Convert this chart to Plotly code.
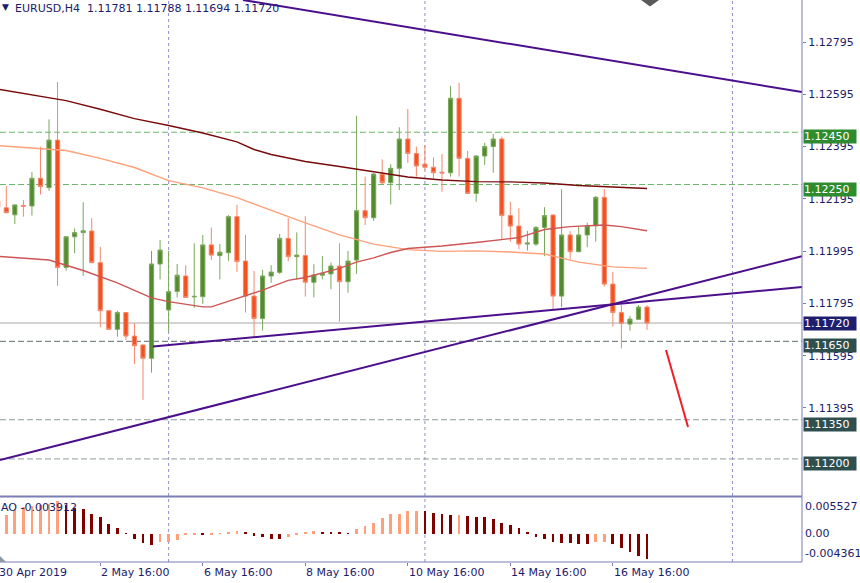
import plotly.graph_objects as go
import pandas as pd

# ---------------- data ----------------
# H4 bars, weekend-free, first (partially visible) bar = 30 Apr 2019 16:00
first_bar = "2019-04-30 16:00"
n_bars = 77

opens = [1.12187, 1.12161, 1.12134, 1.12170, 1.12168, 1.12274, 1.12238, 1.12420, 1.11933, 1.12050,
         1.12066, 1.12072, 1.11951, 1.11767, 1.11696, 1.11760, 1.11670, 1.11636, 1.11585, 1.11946,
         1.11770, 1.11841, 1.11900, 1.11820, 1.11821, 1.12019, 1.11978, 1.11989, 1.12127, 1.11957,
         1.11823, 1.11737, 1.11900, 1.11914, 1.12044, 1.11974, 1.11978, 1.11876, 1.11903, 1.11908,
         1.11938, 1.11878, 1.11961, 1.12150, 1.12123, 1.12289, 1.12257, 1.12312, 1.12424, 1.12369,
         1.12328, 1.12316, 1.12297, 1.12295, 1.12580, 1.12350, 1.12216, 1.12359, 1.12395, 1.12424,
         1.12131, 1.12091, 1.12022, 1.12022, 1.12086, 1.12133, 1.11823, 1.12057, 1.11993, 1.12057,
         1.12092, 1.12201, 1.11869, 1.11760, 1.11716, 1.11734, 1.11781]
highs = [1.12194, 1.12244, 1.12174, 1.12191, 1.12298, 1.12395, 1.12499, 1.12642, 1.12052, 1.12082,
         1.12182, 1.12121, 1.12012, 1.11769, 1.11767, 1.11762, 1.11719, 1.11638, 1.11996, 1.12038,
         1.11996, 1.11946, 1.11941, 1.12025, 1.12057, 1.12085, 1.12022, 1.12133, 1.12172, 1.12057,
         1.11919, 1.11923, 1.11941, 1.12061, 1.12121, 1.12067, 1.12129, 1.11945, 1.11976, 1.11951,
         1.12025, 1.11996, 1.12513, 1.12280, 1.12293, 1.12346, 1.12328, 1.12469, 1.12539, 1.12395,
         1.12401, 1.12354, 1.12367, 1.12627, 1.12639, 1.12379, 1.12361, 1.12410, 1.12443, 1.12433,
         1.12184, 1.12159, 1.12073, 1.12091, 1.12163, 1.12137, 1.12232, 1.12072, 1.12089, 1.12104,
         1.12206, 1.12233, 1.11916, 1.11789, 1.11747, 1.11789, 1.11788]
lows = [1.12152, 1.12141, 1.12099, 1.12127, 1.12131, 1.12212, 1.12226, 1.11862, 1.11920, 1.11987,
        1.11900, 1.11949, 1.11704, 1.11693, 1.11668, 1.11655, 1.11563, 1.11426, 1.11530, 1.11887,
        1.11687, 1.11818, 1.11816, 1.11778, 1.11793, 1.11961, 1.11887, 1.11958, 1.11916, 1.11760,
        1.11662, 1.11691, 1.11874, 1.11908, 1.11957, 1.11887, 1.11821, 1.11818, 1.11887, 1.11849,
        1.11725, 1.11836, 1.11908, 1.12095, 1.12111, 1.12251, 1.12174, 1.12229, 1.12333, 1.12280,
        1.12305, 1.12274, 1.12222, 1.12280, 1.12280, 1.12214, 1.12184, 1.12325, 1.12295, 1.12038,
        1.12031, 1.12002, 1.11997, 1.12015, 1.11976, 1.11773, 1.11780, 1.11965, 1.11991, 1.12010,
        1.12031, 1.11859, 1.11706, 1.11623, 1.11691, 1.11734, 1.11694]
closes = [1.12164, 1.12142, 1.12172, 1.12167, 1.12274, 1.12242, 1.12420, 1.11932, 1.12050, 1.12066,
          1.12073, 1.11951, 1.11767, 1.11696, 1.11760, 1.11670, 1.11633, 1.11585, 1.11946, 1.11999,
          1.11840, 1.11903, 1.11818, 1.11822, 1.12019, 1.11980, 1.11991, 1.12127, 1.11955, 1.11823,
          1.11737, 1.11900, 1.11915, 1.12044, 1.11974, 1.11980, 1.11876, 1.11904, 1.11910, 1.11938,
          1.11878, 1.11957, 1.12150, 1.12123, 1.12290, 1.12257, 1.12312, 1.12424, 1.12369, 1.12321,
          1.12316, 1.12295, 1.12294, 1.12580, 1.12350, 1.12216, 1.12359, 1.12395, 1.12424, 1.12131,
          1.12091, 1.12022, 1.12026, 1.12086, 1.12131, 1.11823, 1.12057, 1.11993, 1.12057, 1.12092,
          1.12201, 1.11869, 1.11760, 1.11719, 1.11735, 1.11781, 1.11720]

# Awesome Oscillator, bars 2..77 (30 Apr 20:00 .. 17 May 08:00)
ao_values = [0.00292, 0.00370, 0.00421, 0.00432, 0.00448, 0.00459, 0.00510, 0.00448, 0.00405, 0.00385,
             0.00307, 0.00265, 0.00151, 0.00094, 0.00011, -0.00083, -0.00150, -0.00176, -0.00134, -0.00125,
             -0.00098, -0.00016, -0.00006, -0.00020, -0.00012, 0.00003, 0.00022, 0.00042, 0.00031, -0.00031,
             -0.00051, -0.00083, -0.00088, -0.00056, -0.00010, 0.00031, 0.00042, 0.00031, 0.00016, 0.00013,
             0.00010, 0.00068, 0.00115, 0.00172, 0.00245, 0.00302, 0.00307, 0.00354, 0.00359, 0.00349,
             0.00331, 0.00307, 0.00294, 0.00297, 0.00276, 0.00260, 0.00258, 0.00229, 0.00172, 0.00136,
             0.00094, 0.00031, -0.00047, -0.00088, -0.00125, -0.00140, -0.00150, -0.00156, -0.00158, -0.00125,
             -0.00122, -0.00156, -0.00228, -0.00281, -0.00348, -0.003912]
ao_scale_max = 0.005527
ao_scale_min = -0.004361

# moving averages (bar number, value)
ma_slow_bar = [0, 8, 12, 16, 20, 24, 28, 30, 32, 36, 40, 44, 48, 52, 56, 60, 64, 68, 72, 76]
ma_slow_val = [1.12615, 1.12571, 1.12538, 1.12502, 1.12476, 1.12447, 1.12413, 1.12384, 1.12365, 1.12338,
               1.12319, 1.12300, 1.12279, 1.12267, 1.12261, 1.12260, 1.12256, 1.12246, 1.12240, 1.12235]
ma_mid_bar = [0, 8, 12, 16, 20, 24, 28, 32, 36, 40, 44, 48, 52, 56, 60, 64, 68, 72, 76]
ma_mid_val = [1.12399, 1.12380, 1.12350, 1.12315, 1.12265, 1.12237, 1.12200, 1.12150, 1.12103, 1.12057,
              1.12022, 1.12001, 1.11994, 1.11996, 1.11992, 1.11984, 1.11953, 1.11935, 1.11929]
ma_fast_bar = [0, 6, 10, 12, 14, 16, 18, 20, 24, 25, 27, 29, 31, 34, 36, 40, 42, 44, 46, 48, 52, 56,
               59, 61, 64, 67, 71, 73, 76]
ma_fast_val = [1.11975, 1.11961, 1.11921, 1.11897, 1.11874, 1.11845, 1.11816, 1.11802, 1.11782, 1.11782,
               1.11804, 1.11823, 1.11846, 1.11883, 1.11894, 1.11929, 1.11953, 1.11969, 1.11990, 1.12005,
               1.12015, 1.12028, 1.12040, 1.12047, 1.12078, 1.12089, 1.12095, 1.12089, 1.12073]

# trend lines (bar number, price)
trend_down_bar = [28.71, 94.14]
trend_down_val = [1.12956, 1.12604]
trend_up_long_bar = [0.26, 94.14]
trend_up_long_val = [1.11196, 1.11976]
trend_up_short_bar = [18.17, 94.14]
trend_up_short_val = [1.11630, 1.11858]
red_stroke_bar = [78.22, 80.80]
red_stroke_val = [1.11617, 1.11322]

levels = [1.12450, 1.12250, 1.11720, 1.11650, 1.11350, 1.11200]
price_ticks = [1.12795, 1.12595, 1.12395, 1.12195, 1.11995, 1.11795, 1.11595, 1.11395]
separator_bars = [20, 50, 86]
label_every = 12
x_view = [0.263, 94.14]

# ---------------- derived ----------------
times = []
t = pd.Timestamp(first_bar)
while len(times) < n_bars:
    if t.weekday() < 5:
        times.append(t)
    t += pd.Timedelta(hours=4)
bars = list(range(n_bars))  # bar number on the axis
ao_bars = bars[1:]

ao_colors = []
for i, v in enumerate(ao_values):
    rising = True if i == 0 else v > ao_values[i - 1]
    ao_colors.append("#FFA07A" if rising else "#800000")

tick_bars = bars[0::label_every]
tick_text = [f"{times[0].day} {times[0].strftime('%b %Y')}"] + \
            [f"{times[b].day} {times[b].strftime('%b')} {times[b].strftime('%H:%M')}" for b in tick_bars[1:]]

FONT = "DejaVu Sans"
NAVY = "#1B1B6B"
FRAME = "#7B7DB5"


def to_paper(b):
    return (b - x_view[0]) / (x_view[1] - x_view[0])


fig = go.Figure()

fig.add_trace(go.Candlestick(
    x=bars, open=opens, high=highs, low=lows, close=closes,
    increasing=dict(fillcolor="#558B2F", line=dict(color="#79A85A", width=1)),
    decreasing=dict(fillcolor="#F4511E", line=dict(color="#F5876A", width=1)),
    whiskerwidth=0, xaxis="x", yaxis="y", hoverinfo="skip", showlegend=False))

for xs, ys, col in [(ma_slow_bar, ma_slow_val, "#7A0A0A"),
                    (ma_mid_bar, ma_mid_val, "#FFA07A"),
                    (ma_fast_bar, ma_fast_val, "#CD5555")]:
    fig.add_trace(go.Scatter(x=xs, y=ys, mode="lines", line=dict(color=col, width=1.4),
                             xaxis="x", yaxis="y", hoverinfo="skip", showlegend=False))

for xs, ys in [(trend_down_bar, trend_down_val), (trend_up_long_bar, trend_up_long_val),
               (trend_up_short_bar, trend_up_short_val)]:
    fig.add_trace(go.Scatter(x=xs, y=ys, mode="lines", line=dict(color="#4B0F8C", width=2),
                             xaxis="x", yaxis="y", hoverinfo="skip", showlegend=False))

fig.add_trace(go.Scatter(x=red_stroke_bar, y=red_stroke_val, mode="lines",
                         line=dict(color="#F01E28", width=2), xaxis="x", yaxis="y",
                         hoverinfo="skip", showlegend=False))

fig.add_trace(go.Bar(x=ao_bars, y=ao_values, marker=dict(color=ao_colors, line=dict(width=0)),
                     width=0.32, xaxis="x", yaxis="y2", hoverinfo="skip", showlegend=False))

# horizontal levels
level_styles = [("#6CB86C", "dash", "#2E8B2E"), ("#6CB86C", "dash", "#2E8B2E"),
                ("#A8A8A8", "solid", "#1E1E6E"), ("#5E6E6E", "dash", "#2F4F4F"),
                ("#8E9A9A", "dash", "#2F4F4F"), ("#8E9A9A", "dash", "#2F4F4F")]
shapes = []
annotations = []
for lv, (lc, ld, bc) in zip(levels, level_styles):
    shapes.append(dict(type="line", xref="paper", x0=0, x1=1, yref="y", y0=lv, y1=lv,
                       line=dict(color=lc, width=1, dash="6px,3px" if ld == "dash" else "solid"),
                       layer="below"))
    centered = ld == "solid"
    annotations.append(dict(xref="paper", x=1, xanchor="left", xshift=1, yref="y", y=lv,
                            yanchor="middle" if centered else "top", yshift=0 if centered else 3,
                            text=f"{lv:.5f}", showarrow=False, bgcolor=bc, width=52, align="left",
                            borderpad=0, font=dict(family=FONT, size=11, color="white")))

for sb in separator_bars:
    shapes.append(dict(type="line", xref="x", x0=sb, x1=sb, yref="paper", y0=0, y1=1,
                       line=dict(color="#8F8FC8", width=1, dash="dot"), layer="below"))

# frame lines
shapes += [
    dict(type="line", xref="paper", x0=1, x1=1, yref="paper", y0=0, y1=1, line=dict(color=FRAME, width=1)),
    dict(type="line", xref="paper", x0=0, x1=1, yref="paper", y0=0.1166, y1=0.1166, line=dict(color=FRAME, width=2)),
    dict(type="line", xref="paper", x0=0, x1=1, yref="paper", y0=0, y1=0, line=dict(color=FRAME, width=1)),
    dict(type="path", xref="paper", yref="paper",
         path="M 0.7993 1 L 0.8217 1 L 0.8105 0.9885 Z", fillcolor="#5A5A5A", line=dict(width=0)),
    dict(type="path", xref="paper", yref="paper",
         path="M 0 0.0107 L 0 0 L 0.0075 0 Z", fillcolor="#8A98A8", line=dict(width=0)),
]

# x-axis labels (start at their tick, as in the terminal)
for b, txt in zip(tick_bars, tick_text):
    annotations.append(dict(xref="paper", yref="paper", x=to_paper(b), y=0, xanchor="left",
                            yanchor="top", yshift=-2, xshift=-1, text=txt, showarrow=False,
                            font=dict(family=FONT, size=11, color=NAVY)))

# header & indicator labels
annotations += [
    dict(xref="paper", yref="paper", x=0, y=1, xanchor="left", yanchor="top", xshift=0, yshift=0,
         text="▼", showarrow=False, font=dict(family=FONT, size=9, color=NAVY)),
    dict(xref="paper", yref="paper", x=0, y=1, xanchor="left", yanchor="top", xshift=13,
         text=f"EURUSD,H4\u00a0\u00a0{opens[-1]:.5f} {highs[-1]:.5f} {lows[-1]:.5f} {closes[-1]:.5f}",
         showarrow=False, font=dict(family=FONT, size=11, color=NAVY)),
    dict(xref="paper", yref="y2", x=0, y=ao_scale_max, xanchor="left", yanchor="top", xshift=-1, yshift=-1,
         text=f"AO {ao_values[-1]:.6f}", showarrow=False, font=dict(family=FONT, size=11, color=NAVY)),
    dict(xref="paper", yref="y2", x=1, y=ao_scale_max, xanchor="left", yanchor="top", xshift=1,
         text=f"{ao_scale_max:.6f}", showarrow=False, font=dict(family=FONT, size=11, color=NAVY)),
    dict(xref="paper", yref="y2", x=1, y=0, xanchor="left", yanchor="middle", xshift=1,
         text="0.00", showarrow=False, font=dict(family=FONT, size=11, color=NAVY)),
    dict(xref="paper", yref="y2", x=1, y=ao_scale_min, xanchor="left", yanchor="bottom", xshift=1,
         text=f"{ao_scale_min:.6f}", showarrow=False, font=dict(family=FONT, size=11, color=NAVY)),
]

fig.update_layout(
    width=860, height=583,
    margin=dict(l=0, r=58, t=0, b=21),
    paper_bgcolor="white", plot_bgcolor="white",
    hovermode=False, showlegend=False, bargap=0,
    xaxis=dict(domain=[0, 1], range=x_view, anchor="y2",
               rangeslider=dict(visible=False), showgrid=False, zeroline=False,
               tickvals=tick_bars, ticks="outside", ticklen=3, tickcolor=FRAME,
               showticklabels=False),
    yaxis=dict(domain=[0.11922, 1], range=[1.11062, 1.12956], anchor="x", side="right",
               tickvals=price_ticks, ticktext=[f"{p:.5f}" for p in price_ticks],
               ticks="outside", ticklen=3, tickcolor=FRAME, showgrid=False, zeroline=False,
               tickfont=dict(family=FONT, size=11, color=NAVY)),
    yaxis2=dict(domain=[0, 0.11388], range=[ao_scale_min - 0.00005, ao_scale_max + 0.00005],
                anchor="x", side="right", showticklabels=False, showgrid=False, zeroline=False),
    shapes=shapes, annotations=annotations,
)

fig.write_html("out.html", config={"displayModeBar": False},
               post_script="document.body.style.margin='0';document.body.style.overflow='hidden';")
